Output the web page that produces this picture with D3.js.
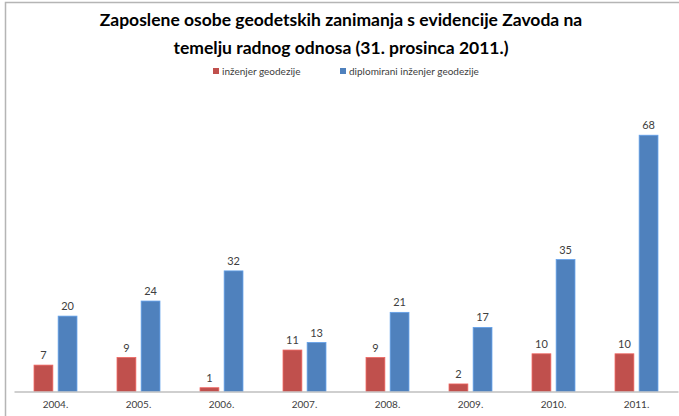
<!DOCTYPE html>
<html>
<head>
<meta charset="utf-8">
<script src="https://cdn.jsdelivr.net/npm/d3@7"></script>
<style>
  html,body{margin:0;padding:0;background:#fff;}
  svg{display:block;font-family:Lato,"Open Sans",sans-serif;}
</style>
</head>
<body>
<svg id="chart" width="679" height="416"></svg>
<script>
// data
const years = ['2004.','2005.','2006.','2007.','2008.','2009.','2010.','2011.'];
const seriesNames = ['inženjer geodezije','diplomirani inženjer geodezije'];
const inzenjer = [7, 9, 1, 11, 9, 2, 10, 10];
const diplomirani = [20, 24, 32, 13, 21, 17, 35, 68];
const colors = ['#C0504D','#4F81BD'];
const titleLines = ['Zaposlene osobe geodetskih zanimanja s evidencije Zavoda na','temelju radnog odnosa (31. prosinca 2011.)'];

const svg = d3.select('#chart');
const W = 679, H = 416;
const m = {left:14, right:1, top:90, bottom:24.5};

// frame
svg.append('rect').attr('x',5.5).attr('y',2.5).attr('width',W).attr('height',H)
  .attr('fill','#fff').attr('stroke','#b5b5b5').attr('stroke-width',1.5);

// title
const t = svg.append('text').attr('text-anchor','middle').attr('font-weight','bold')
  .attr('font-size',17.5).attr('fill','#000');
titleLines.forEach((s,i)=> t.append('tspan').attr('x',341).attr('y',26+i*28).text(s));

// legend
const leg = svg.append('g').attr('font-size',10).attr('fill','#404040');
const legX = [213, 340];
seriesNames.forEach((s,i)=>{
  leg.append('rect').attr('x',legX[i]).attr('y',68).attr('width',6).attr('height',6).attr('fill',colors[i]);
  leg.append('text').attr('x',legX[i]+9).attr('y',75).text(s);
});

// scales
const x0 = d3.scaleBand().domain(years).range([m.left, W-m.right]).paddingInner(0).paddingOuter(0);
const x1 = d3.scaleBand().domain([0,1]).range([0, x0.bandwidth()]).paddingInner(0.22).paddingOuter(0.83);
const y = d3.scaleLinear().domain([0,80]).range([H-m.bottom, m.top]);

const rows = years.map((yr,i)=>({yr, vals:[inzenjer[i], diplomirani[i]]}));

const g = svg.append('g');
const grp = g.selectAll('g.cat').data(rows).join('g').attr('class','cat')
  .attr('transform',d=>`translate(${x0(d.yr)},0)`);

grp.selectAll('rect').data(d=>d.vals.map((v,k)=>({v,k}))).join('rect')
  .attr('x',d=>x1(d.k)).attr('width',x1.bandwidth())
  .attr('y',d=>y(d.v)).attr('height',d=>y(0)-y(d.v))
  .attr('fill',d=>colors[d.k])
  .attr('stroke',d=>d3.color(colors[d.k]).brighter(0.6)).attr('stroke-width',0.8);

grp.selectAll('text').data(d=>d.vals.map((v,k)=>({v,k}))).join('text')
  .attr('x',d=>x1(d.k)+x1.bandwidth()/2).attr('y',d=>y(d.v)-6)
  .attr('text-anchor','middle').attr('font-size',11).attr('fill','#404040')
  .text(d=>d.v);

// baseline axis
const ax = svg.append('g').attr('transform',`translate(0,${y(0)})`)
  .call(d3.axisBottom(x0).tickSize(0).tickPadding(9));
ax.select('.domain').attr('stroke','#bfbfbf').attr('stroke-width',1.5);
ax.selectAll('text').attr('font-size',10).attr('fill','#404040').attr('font-family','Lato,"Open Sans",sans-serif');
</script>
</body>
</html>
